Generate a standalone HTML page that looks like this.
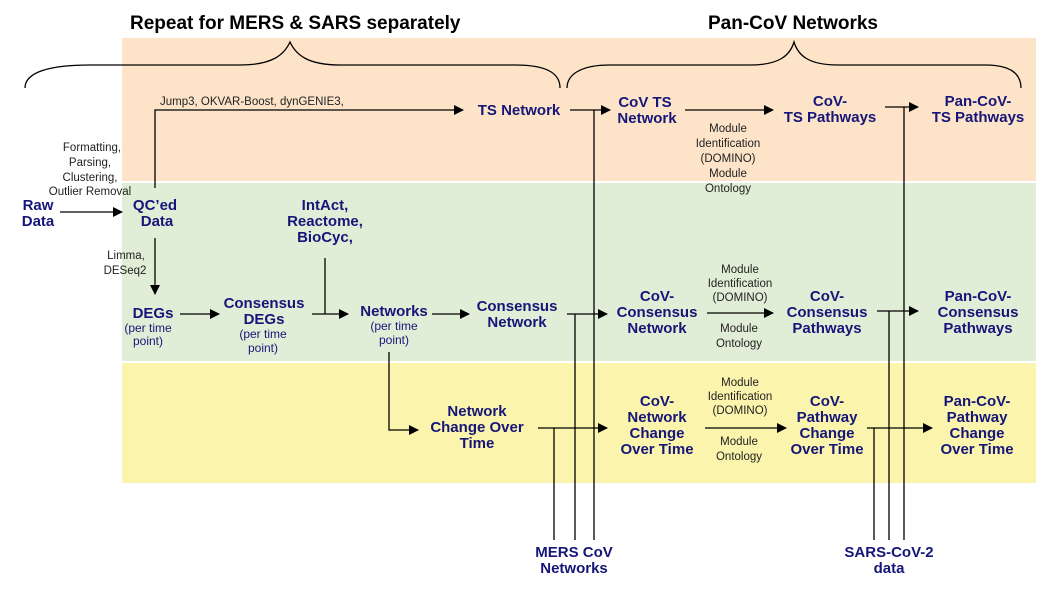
<!DOCTYPE html>
<html><head><style>
body{margin:0;width:1058px;height:595px;background:#fff;overflow:hidden}
svg{display:block}
.b{font-family:"Liberation Sans",sans-serif;font-weight:bold;font-size:15px;fill:#161679;text-anchor:middle}
.s{font-family:"Liberation Sans",sans-serif;font-size:11.5px;fill:#222;text-anchor:middle}
.p{font-family:"Liberation Sans",sans-serif;font-size:12px;fill:#161679;text-anchor:middle}
.h{font-family:"Liberation Sans",sans-serif;font-weight:bold;font-size:19px;fill:#000}
line,path.l{stroke:#000;stroke-width:1.3;fill:none}
</style></head><body>
<svg width="1058" height="595" viewBox="0 0 1058 595">
<defs><marker id="a" markerWidth="10" markerHeight="10" refX="9" refY="5" orient="auto" markerUnits="userSpaceOnUse"><path d="M0,0 L10,5 L0,10 z" fill="#000"/></marker></defs>
<rect x="122" y="38" width="914" height="143" fill="#fde4c9"/>
<rect x="122" y="183" width="914" height="178" fill="#e1eed7"/>
<rect x="122" y="363" width="914" height="120" fill="#fbf4ac"/>
<text class="h" x="130" y="29">Repeat for MERS &amp; SARS separately</text>
<text class="h" x="708" y="29">Pan-CoV Networks</text>
<path class="l" d="M25,88 C25,72 50,65 90,65 L240,65 C272,65 284,55 290,42 C296,55 308,65 340,65 L515,65 C550,65 560,75 560,88"/>
<path class="l" d="M567,88 C567,75 580,65 610,65 L750,65 C780,65 790,55 794,42 C798,55 808,65 838,65 L985,65 C1012,65 1021,75 1021,88"/>
<!-- lines -->
<line x1="60" y1="212" x2="122" y2="212" marker-end="url(#a)"/>
<path class="l" d="M155,188 L155,110 L463,110" marker-end="url(#a)"/>
<line x1="155" y1="238" x2="155" y2="294" marker-end="url(#a)"/>
<line x1="180" y1="314" x2="219" y2="314" marker-end="url(#a)"/>
<line x1="312" y1="314" x2="348" y2="314" marker-end="url(#a)"/>
<line x1="325" y1="258" x2="325" y2="314"/>
<line x1="432" y1="314" x2="469" y2="314" marker-end="url(#a)"/>
<path class="l" d="M389,352 L389,430 L418,430" marker-end="url(#a)"/>
<line x1="570" y1="110" x2="610" y2="110" marker-end="url(#a)"/>
<line x1="567" y1="314" x2="607" y2="314" marker-end="url(#a)"/>
<line x1="538" y1="428" x2="607" y2="428" marker-end="url(#a)"/>
<line x1="594" y1="110" x2="594" y2="540"/>
<line x1="575" y1="314" x2="575" y2="540"/>
<line x1="554" y1="428" x2="554" y2="540"/>
<line x1="685" y1="110" x2="773" y2="110" marker-end="url(#a)"/>
<line x1="707" y1="313" x2="773" y2="313" marker-end="url(#a)"/>
<line x1="705" y1="428" x2="786" y2="428" marker-end="url(#a)"/>
<line x1="885" y1="107" x2="918" y2="107" marker-end="url(#a)"/>
<line x1="877" y1="311" x2="918" y2="311" marker-end="url(#a)"/>
<line x1="867" y1="428" x2="932" y2="428" marker-end="url(#a)"/>
<line x1="904" y1="107" x2="904" y2="540"/>
<line x1="889" y1="311" x2="889" y2="540"/>
<line x1="874" y1="428" x2="874" y2="540"/>
<!-- labels -->
<text class="s" x="160" y="105" style="text-anchor:start">Jump3, OKVAR-Boost, dynGENIE3,</text>
<text class="s"><tspan x="92" y="151">Formatting,</tspan><tspan x="90" y="166">Parsing,</tspan><tspan x="90" y="181">Clustering,</tspan><tspan x="90" y="195">Outlier Removal</tspan></text>
<text class="s"><tspan x="126" y="259">Limma,</tspan><tspan x="125" y="274">DESeq2</tspan></text>
<text class="b"><tspan x="38" y="210">Raw</tspan><tspan x="38" y="226">Data</tspan></text>
<text class="b"><tspan x="155" y="210">QC’ed</tspan><tspan x="157" y="226">Data</tspan></text>
<text class="b"><tspan x="519" y="115">TS Network</tspan></text>
<text class="b"><tspan x="645" y="107">CoV TS</tspan><tspan x="647" y="123">Network</tspan></text>
<text class="b"><tspan x="830" y="106">CoV-</tspan><tspan x="830" y="122">TS Pathways</tspan></text>
<text class="b"><tspan x="978" y="106">Pan-CoV-</tspan><tspan x="978" y="122">TS Pathways</tspan></text>
<text class="s"><tspan x="728" y="132">Module</tspan><tspan x="728" y="147">Identification</tspan><tspan x="728" y="162">(DOMINO)</tspan><tspan x="728" y="177">Module</tspan><tspan x="728" y="192">Ontology</tspan></text>
<text class="b"><tspan x="325" y="210">IntAct,</tspan><tspan x="325" y="226">Reactome,</tspan><tspan x="325" y="242">BioCyc,</tspan></text>
<text class="b"><tspan x="153" y="318">DEGs</tspan></text>
<text class="p"><tspan x="148" y="332">(per time</tspan><tspan x="148" y="345">point)</tspan></text>
<text class="b"><tspan x="264" y="308">Consensus</tspan><tspan x="264" y="324">DEGs</tspan></text>
<text class="p"><tspan x="263" y="338">(per time</tspan><tspan x="263" y="352">point)</tspan></text>
<text class="b"><tspan x="394" y="316">Networks</tspan></text>
<text class="p"><tspan x="394" y="330">(per time</tspan><tspan x="394" y="344">point)</tspan></text>
<text class="b"><tspan x="517" y="311">Consensus</tspan><tspan x="517" y="327">Network</tspan></text>
<text class="b"><tspan x="657" y="301">CoV-</tspan><tspan x="657" y="317">Consensus</tspan><tspan x="657" y="333">Network</tspan></text>
<text class="s"><tspan x="740" y="273">Module</tspan><tspan x="740" y="287">Identification</tspan><tspan x="740" y="301">(DOMINO)</tspan><tspan x="739" y="332">Module</tspan><tspan x="739" y="347">Ontology</tspan></text>
<text class="b"><tspan x="827" y="301">CoV-</tspan><tspan x="827" y="317">Consensus</tspan><tspan x="827" y="333">Pathways</tspan></text>
<text class="b"><tspan x="978" y="301">Pan-CoV-</tspan><tspan x="978" y="317">Consensus</tspan><tspan x="978" y="333">Pathways</tspan></text>
<text class="b"><tspan x="477" y="416">Network</tspan><tspan x="477" y="432">Change Over</tspan><tspan x="477" y="448">Time</tspan></text>
<text class="b"><tspan x="657" y="406">CoV-</tspan><tspan x="657" y="422">Network</tspan><tspan x="657" y="438">Change</tspan><tspan x="657" y="454">Over Time</tspan></text>
<text class="s"><tspan x="740" y="386">Module</tspan><tspan x="740" y="400">Identification</tspan><tspan x="740" y="414">(DOMINO)</tspan><tspan x="739" y="445">Module</tspan><tspan x="739" y="460">Ontology</tspan></text>
<text class="b"><tspan x="827" y="406">CoV-</tspan><tspan x="827" y="422">Pathway</tspan><tspan x="827" y="438">Change</tspan><tspan x="827" y="454">Over Time</tspan></text>
<text class="b"><tspan x="977" y="406">Pan-CoV-</tspan><tspan x="977" y="422">Pathway</tspan><tspan x="977" y="438">Change</tspan><tspan x="977" y="454">Over Time</tspan></text>
<text class="b"><tspan x="574" y="557">MERS CoV</tspan><tspan x="574" y="573">Networks</tspan></text>
<text class="b"><tspan x="889" y="557">SARS-CoV-2</tspan><tspan x="889" y="573">data</tspan></text>
</svg>
</body></html>
